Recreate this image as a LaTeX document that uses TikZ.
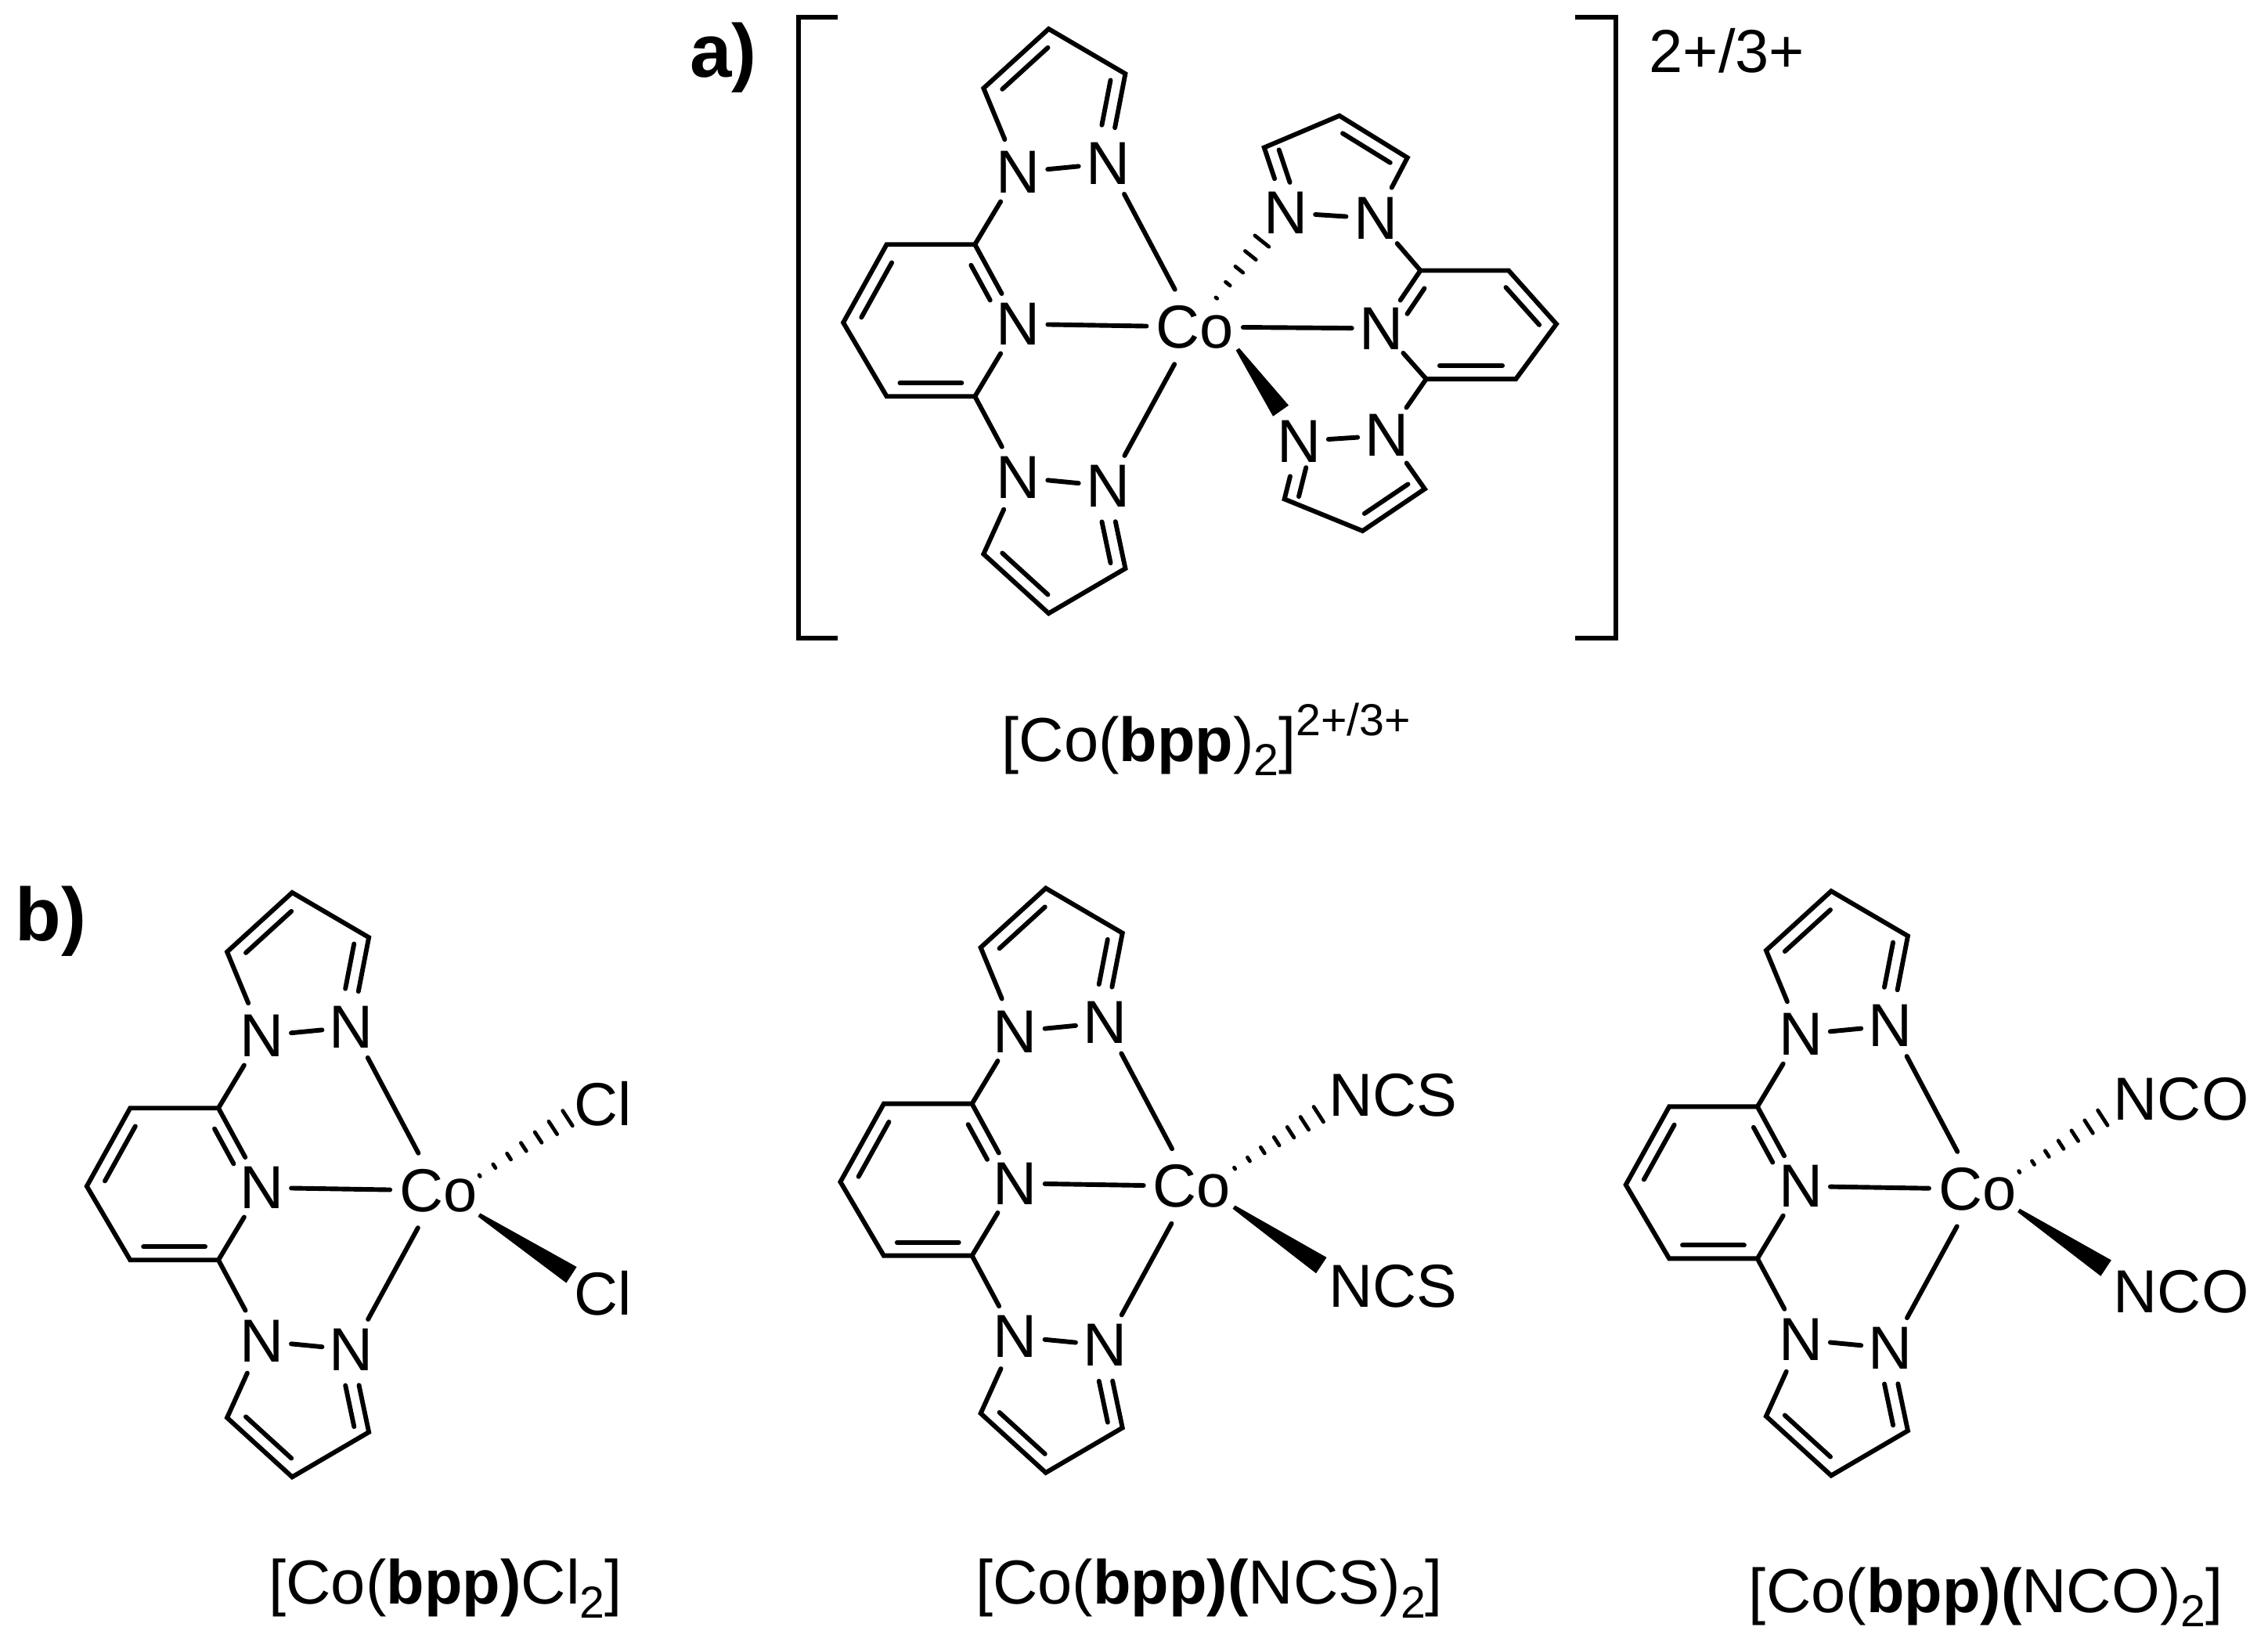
\documentclass[tikz,border=0pt]{standalone}
\usepackage{fontspec}
\setmainfont{Liberation Sans}
\usetikzlibrary{calc,shapes.geometric}

\newcommand{\atomfont}{\fontsize{21}{24}\selectfont}
\newcommand{\capfont}{\fontsize{21.5}{26}\selectfont}
\newcommand{\tagfont}{\fontsize{26}{32}\selectfont\bfseries}
\newcommand{\lowtxt}[1]{\raisebox{-0.22em}{\fontsize{15.5}{18}\selectfont #1}}
\newcommand{\hightxt}[1]{\raisebox{0.42em}{\fontsize{15.5}{18}\selectfont #1}}
\newcommand{\atm}[1]{\makebox[0pt]{#1}}

% inner line of a double bond, on the left of a->b
\newcommand{\dbl}[4]{\draw[bond] ($(#1)!#3!(#2)!4.6pt!90:(#2)$) -- ($(#2)!#4!(#1)!4.6pt!-90:(#1)$);}
\newcommand{\wedgebond}[2]{\fill ($(#1)!0.7pt!90:(#2)$) -- ($(#2)!3.3pt!-90:(#1)$) -- ($(#2)!3.3pt!90:(#1)$) -- ($(#1)!0.7pt!-90:(#2)$) -- cycle;}
\newcommand{\hashbond}[3]{\foreach \k in {0,...,#3}{
  \pgfmathsetmacro\t{\k/#3}
  \pgfmathsetmacro\w{0.3+2.8*\k/#3}
  \draw[hashline] ($(#1)!\w pt!90:(#2) + \t*(#2) - \t*(#1)$) -- ($(#1)!\w pt!-90:(#2) + \t*(#2) - \t*(#1)$);
}}

\tikzset{
  bond/.style={line width=1.6pt, line cap=round},
  hashline/.style={line width=1.3pt, line cap=round},
  frame/.style={line width=1.6pt},
  atom/.style={ellipse, inner sep=0pt, minimum width=20pt, minimum height=25pt, font=\atomfont},
  cobalt/.style={atom, minimum width=33pt, minimum height=28pt},
  donor/.style={inner sep=0pt, font=\atomfont},
  caption/.style={inner sep=0pt, font=\capfont},
  tag/.style={inner sep=0pt, font=\tagfont},
  bpp/.pic={
    \node[cobalt] (Co) at (0,0) {\atm{Co}};
    % pyridine
    \node[atom] (Npy) at (-122,-2) {\atm{N}};
    \coordinate (c2) at (-152,-57);
    \coordinate (c3) at (-213,-57);
    \coordinate (c4) at (-243,-3);
    \coordinate (c5) at (-213,48);
    \coordinate (c6) at (-152,48);
    \draw[bond] (Npy) -- (c2) -- (c3) -- (c4) -- (c5) -- (c6) -- (Npy);
    \dbl{Npy}{c2}{0.38}{0.18}
    \dbl{c3}{c4}{0.15}{0.15}
    \dbl{c5}{c6}{0.15}{0.15}
    % upper pyrazole
    \node[atom] (Na) at (-122,-107) {\atm{N}};
    \node[atom] (Nb) at (-60,-113) {\atm{N}};
    \coordinate (a3) at (-48,-175);
    \coordinate (a4) at (-101,-206);
    \coordinate (a5) at (-146,-165);
    \draw[bond] (Nb) -- (a3) -- (a4) -- (a5) -- (Na) -- (Nb);
    \dbl{Nb}{a3}{0.4}{0.1}
    \dbl{a4}{a5}{0.15}{0.15}
    % lower pyrazole
    \node[atom] (Nc) at (-122,104) {\atm{N}};
    \node[atom] (Nd) at (-60,110) {\atm{N}};
    \coordinate (b3) at (-48,167);
    \coordinate (b4) at (-101,198);
    \coordinate (b5) at (-146,157);
    \draw[bond] (Nd) -- (b3) -- (b4) -- (b5) -- (Nc) -- (Nd);
    \dbl{b3}{Nd}{0.1}{0.4}
    \dbl{b5}{b4}{0.15}{0.15}
    % links
    \draw[bond] (c2) -- (Na);
    \draw[bond] (c6) -- (Nc);
    \draw[bond] (Npy) -- (Co);
    \draw[bond] (Nb) -- (Co);
    \draw[bond] (Nd) -- (Co);
  }
}

\begin{document}
\begin{tikzpicture}[x=0.5pt, y=-0.5pt]
\useasboundingbox (0,0) rectangle (1568,1132.3);

% a)
\node[tag] (taga) at (500,40) {a)};
\pic (m0-) at (826,226) {bpp};
\node[atom] (Nr) at (955,227) {\atm{N}};
\coordinate (r2) at (982,187);
\coordinate (r3) at (1043,187);
\coordinate (r4) at (1076,224);
\coordinate (r5) at (1048,262);
\coordinate (r6) at (986,262);
\draw[bond] (Nr) -- (r2) -- (r3) -- (r4) -- (r5) -- (r6) -- (Nr);
\dbl{r2}{Nr}{0.18}{0.38}
\dbl{r6}{r5}{0.15}{0.15}
\dbl{r4}{r3}{0.15}{0.15}
\node[atom] (Ne) at (889,147) {\atm{N}};
\node[atom] (Nf) at (951,151) {\atm{N}};
\coordinate (e3) at (874,102);
\coordinate (e4) at (926,80);
\coordinate (e5) at (973,109);
\draw[bond] (Ne) -- (e3) -- (e4) -- (e5) -- (Nf) -- (Ne);
\dbl{e3}{Ne}{0.1}{0.4}
\dbl{e5}{e4}{0.15}{0.15}
\node[atom] (Ng) at (898,305) {\atm{N}};
\node[atom] (Nh) at (959,301) {\atm{N}};
\coordinate (g3) at (888,345);
\coordinate (g4) at (942,367);
\coordinate (g5) at (985,338);
\draw[bond] (Ng) -- (g3) -- (g4) -- (g5) -- (Nh) -- (Ng);
\dbl{Ng}{g3}{0.4}{0.1}
\dbl{g4}{g5}{0.15}{0.15}
\draw[bond] (r2) -- (Nf);
\draw[bond] (r6) -- (Nh);
\draw[bond] (m0-Co) -- (Nr);
\coordinate (hs0) at (841,206);
\coordinate (he0) at (872.4,166.7);
\coordinate (ws0) at (855.6,241.4);
\coordinate (we0) at (885.5,284);
\hashbond{hs0}{he0}{4}
\wedgebond{ws0}{we0}
\draw[frame] (579,12) -- (552,12) -- (552,441) -- (579,441);
\draw[frame] (1089,12) -- (1117,12) -- (1117,441) -- (1089,441);
\node[donor] (charge) at (1194,35) {2+/3+};
\node[caption] (capa) at (834,511) {[Co(\textbf{bpp})\lowtxt{2}]\hightxt{2+/3+}};

% b)
\node[tag] (tagb) at (35,637) {b)};
\pic (m1-) at (303,823) {bpp};
\node[donor] (cla) at (417,763) {Cl};
\node[donor] (clb) at (417,894) {Cl};
\coordinate (hs1) at (331.6,812.7);
\coordinate (he1) at (392.4,773);
\coordinate (ws1) at (331.2,839.8);
\coordinate (we1) at (395.1,881.3);
\hashbond{hs1}{he1}{6}
\wedgebond{ws1}{we1}
\node[caption] (capb) at (308,1098) {[Co(\textbf{bpp)}Cl\lowtxt{2}]};

\pic (m2-) at (824,820) {bpp};
\node[donor] (nsa) at (963,757) {NCS};
\node[donor] (nsb) at (963,889) {NCS};
\coordinate (hs2) at (853.6,807.6);
\coordinate (he2) at (911.6,770.3);
\coordinate (ws2) at (853,834.4);
\coordinate (we2) at (913.5,874.7);
\hashbond{hs2}{he2}{6}
\wedgebond{ws2}{we2}
\node[caption] (capc) at (836,1098) {[Co(\textbf{bpp)(}NCS)\lowtxt{2}]};

\pic (m3-) at (1367,822) {bpp};
\node[donor] (noa) at (1508,760) {NCO};
\node[donor] (nob) at (1508,893) {NCO};
\coordinate (hs3) at (1396,810);
\coordinate (he3) at (1453.7,772.7);
\coordinate (ws3) at (1395.6,836.7);
\coordinate (we3) at (1456,876.6);
\hashbond{hs3}{he3}{6}
\wedgebond{ws3}{we3}
\node[caption] (capd) at (1373,1104) {[Co(\textbf{bpp)(}NCO)\lowtxt{2}]};
\end{tikzpicture}
\end{document}
